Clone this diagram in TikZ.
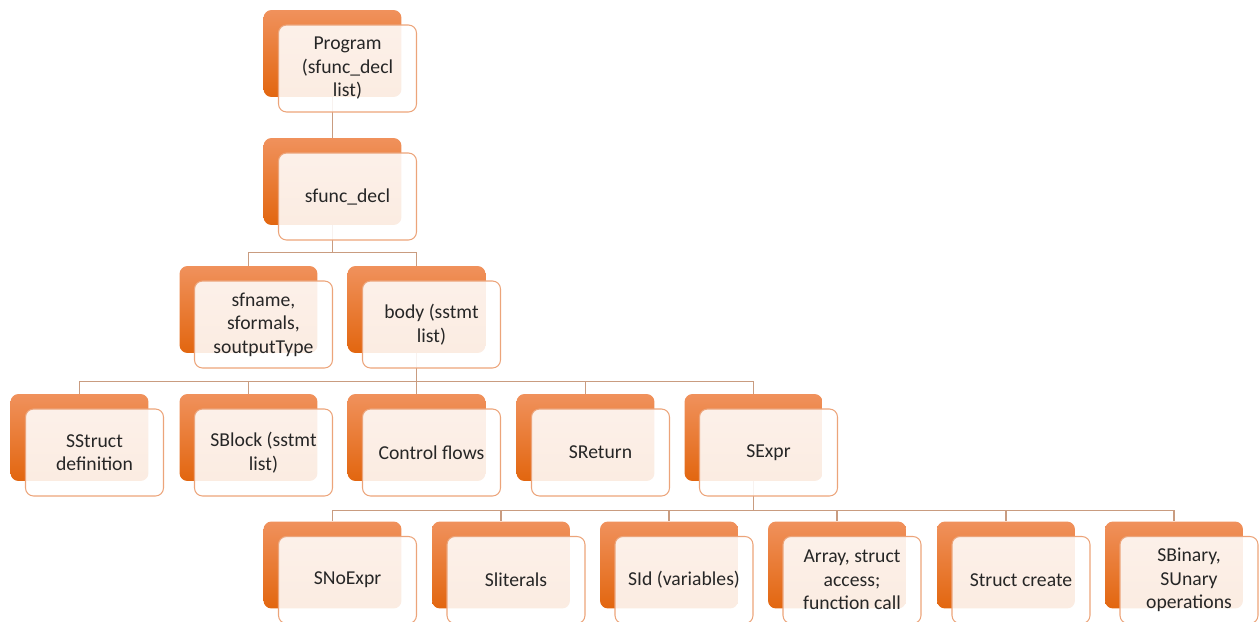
\documentclass[tikz,border=0pt]{standalone}
\usepackage{fontspec}
\setmainfont{Carlito}
\usetikzlibrary{backgrounds}

\definecolor{boxtop}{HTML}{F0915C}
\definecolor{boxbot}{HTML}{E2660F}
\definecolor{boxline}{HTML}{ECA47A}
\definecolor{linkcol}{HTML}{C99C80}
\definecolor{txt}{HTML}{262626}

\tikzset{
	orangebox/.style={rounded corners=0.16cm, minimum width=2.76cm, minimum height=1.74cm, top color=boxtop, bottom color=boxbot, draw=none},
	whitebox/.style={rounded corners=0.16cm, minimum width=2.76cm, minimum height=1.74cm, draw=boxline, line width=0.6pt, fill=white, fill opacity=0.88, text opacity=1, text=txt, align=center, inner sep=1pt, font=\fontsize{11.2}{13.4}\selectfont},
	link/.style={draw=linkcol, line width=0.6pt},
}

\begin{document}
\begin{tikzpicture}[x=0.02cm, y=-0.02cm]
		\clip (0,0) rectangle (1259,622);

		% top of the tree
		\node[orangebox] (prog) at (332.5,53.5) {};
		\node[whitebox] (progT) at ([shift={(15,15)}]prog.center) {Program\\(sfunc\_decl\\list)};
		\node[orangebox] (decl) at (332.5,181.5) {};
		\node[whitebox] (declT) at ([shift={(15,15)}]decl.center) {sfunc\_decl};

		\node[orangebox] (sfname) at (248.5,309.5) {};
		\node[whitebox] (sfnameT) at ([shift={(15,15)}]sfname.center) {sfname,\\sformals,\\soutputType};
		\node[orangebox] (body) at (416.5,309.5) {};
		\node[whitebox] (bodyT) at ([shift={(15,15)}]body.center) {body (sstmt\\list)};

		% statements
		\node[orangebox] (sstruct) at (79.5,437.5) {};
		\node[whitebox] (sstructT) at ([shift={(15,15)}]sstruct.center) {SStruct\\definition};
		\node[orangebox] (sblock) at (248.5,437.5) {};
		\node[whitebox] (sblockT) at ([shift={(15,15)}]sblock.center) {SBlock (sstmt\\list)};
		\node[orangebox] (ctrl) at (416.5,437.5) {};
		\node[whitebox] (ctrlT) at ([shift={(15,15)}]ctrl.center) {Control flows};
		\node[orangebox] (sreturn) at (585.5,437.5) {};
		\node[whitebox] (sreturnT) at ([shift={(15,15)}]sreturn.center) {SReturn};
		\node[orangebox] (sexpr) at (753.5,437.5) {};
		\node[whitebox] (sexprT) at ([shift={(15,15)}]sexpr.center) {SExpr};

		% expressions
		\node[orangebox] (snoexpr) at (332.5,565) {};
		\node[whitebox] (snoexprT) at ([shift={(15,15)}]snoexpr.center) {SNoExpr};
		\node[orangebox] (slit) at (501,565) {};
		\node[whitebox] (slitT) at ([shift={(15,15)}]slit.center) {Sliterals};
		\node[orangebox] (sid) at (669,565) {};
		\node[whitebox] (sidT) at ([shift={(15,15)}]sid.center) {SId (variables)};
		\node[orangebox] (access) at (837,565) {};
		\node[whitebox] (accessT) at ([shift={(15,15)}]access.center) {Array, struct\\access;\\function call};
		\node[orangebox] (screate) at (1006,565) {};
		\node[whitebox] (screateT) at ([shift={(15,15)}]screate.center) {Struct create};
		\node[orangebox] (sbinary) at (1174,565) {};
		\node[whitebox] (sbinaryT) at ([shift={(15,15)}]sbinary.center) {SBinary,\\SUnary\\operations};

		\begin{scope}[on background layer]
			\draw[link] (prog.south) -- (decl.north);
			\foreach \kid in {sfname,body}
				\draw[link] (decl.south) -- ++(0,27) -| (\kid.north);
			\foreach \kid in {sstruct,sblock,ctrl,sreturn,sexpr}
				\draw[link] (body.south) -- ++(0,28) -| (\kid.north);
			\foreach \kid in {snoexpr,slit,sid,access,screate,sbinary}
				\draw[link] (sexpr.south) -- ++(0,29) -| (\kid.north);
		\end{scope}
	\end{tikzpicture}
\end{document}
